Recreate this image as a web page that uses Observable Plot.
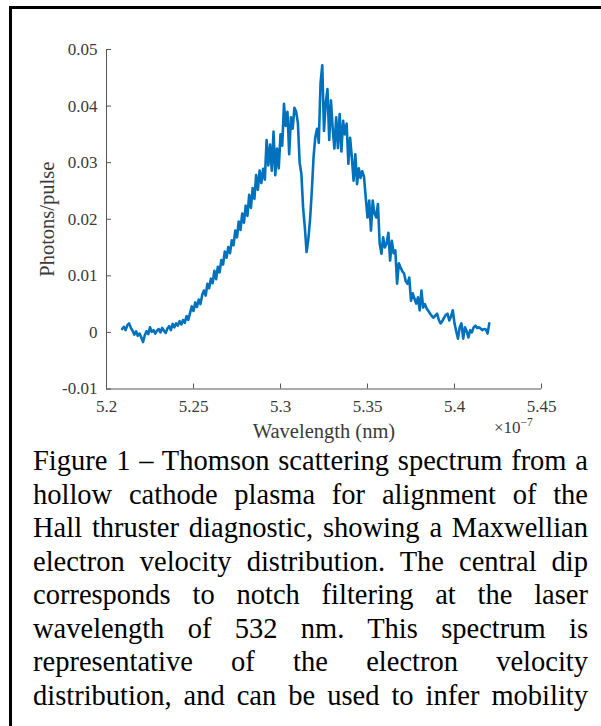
<!DOCTYPE html>
<html>
<head>
<meta charset="utf-8">
<script src="https://cdn.jsdelivr.net/npm/d3@7"></script>
<script src="https://cdn.jsdelivr.net/npm/@observablehq/plot@0.6"></script>
<style>
  html, body { margin: 0; padding: 0; background: #fff; width: 601px; height: 726px; overflow: hidden; }
  #frame { position: absolute; left: 9px; top: 6px; width: 800px; height: 900px; border-left: 3px solid #000; border-top: 3px solid #000; }
  #chart { position: absolute; left: 0; top: 0; }
  #chart svg, #chart svg text, #chart svg g { font-family: "Liberation Serif", "Times New Roman", serif !important; }
  #chart svg text { font-size: 17px; }
  #chart g[aria-label="x-axis label"] text, #chart g[aria-label="y-axis label"] text { font-size: 20.5px; }
  #exp { position: absolute; left: 494px; top: 420px; font-family: "Liberation Serif", serif; font-size: 17px; line-height: 16px; color: #3a3a3a; }
  #exp sup { font-size: 11.5px; line-height: 0; vertical-align: 7px; }
  #caption { position: absolute; left: 33px; top: 444px; width: 555px; font-family: "Liberation Serif", "Times New Roman", serif; font-size: 28.5px; line-height: 33.5px; color: #000; }
  #caption div { text-align: justify; text-align-last: justify; white-space: nowrap; }
</style>
</head>
<body>
<div id="frame"></div>
<div id="chart"></div>
<div id="exp">×10<sup>−7</sup></div>
<div id="caption"></div>
<script>
// Wavelength sampling grid (units of 1e-7 m, as on the axis)
const wavelengthStart = 5.209;
const wavelengthStep = 0.001;

// Photons/pulse, in units of 1e-3
const photonsMilli = [
  0.6, 1.0, 0.4, 1.3, 1.6, 0.8, 0.3, -0.4, 0.2, -0.6,
  -0.2, -0.9, -1.7, -0.5, 0.2, -0.3, 0.9, 0.1, 0.4, -0.2,
  0.3, 0.6, 0.0, 0.8, 0.3, -0.1, 0.7, 1.1, 0.4, 1.5,
  0.9, 1.6, 1.2, 2.0, 1.4, 2.2, 1.7, 2.9, 2.2, 3.4,
  4.6, 3.8, 5.3, 4.5, 5.8, 5.0, 6.6, 7.4, 6.5, 8.6,
  7.8, 9.5, 8.7, 10.9, 9.4, 11.6, 10.6, 12.8, 12.0, 14.3,
  13.2, 15.1, 14.0, 16.3, 15.4, 18.0, 16.8, 19.6, 18.1, 21.0,
  19.4, 22.4, 20.6, 24.3, 22.0, 25.5, 23.6, 27.8, 25.2, 28.6,
  26.4, 28.9, 27.0, 34.0, 29.5, 33.2, 28.6, 35.5, 27.8, 32.5,
  29.0, 35.0, 33.0, 40.4, 36.5, 39.0, 31.5, 38.0, 36.0, 39.7,
  39.0, 37.0, 30.0, 28.0, 22.0, 18.5, 14.2, 16.5, 20.0, 25.0,
  31.0, 34.5, 36.0, 33.5, 44.0, 47.2, 35.6, 40.5, 43.0, 34.0,
  41.0, 36.0, 32.5, 38.0, 32.6, 38.6, 32.0, 37.4, 35.0, 36.9,
  29.8, 34.4, 31.0, 26.8, 31.5, 26.2, 29.0, 27.3, 28.5, 27.5,
  23.8, 20.3, 23.3, 18.0, 23.3, 21.0, 20.3, 22.7, 15.7, 13.9,
  16.8, 15.0, 15.7, 17.6, 12.7, 16.2, 14.0, 14.5, 8.6, 12.2,
  11.5, 10.8, 10.4, 9.0, 8.6, 9.7, 5.6, 6.9, 6.0, 5.1,
  6.2, 3.9, 7.4, 4.4, 5.0, 4.2, 3.8, 3.3, 2.9, 2.6,
  3.0, 3.3, 2.2, 1.6, 2.0, 2.6, 3.1, 3.3, 2.1, 2.8,
  3.9, 1.6, 0.2, -1.1, 0.9, 1.6, -1.1, 0.9, 0.2, -0.9,
  0.4, 0.0, 0.9, 1.2, 0.8, 0.9, 0.7, 0.4, 0.6, 0.5,
  -0.2, 1.6
];

const xTicks = [5.2, 5.25, 5.3, 5.35, 5.4, 5.45];
const yTicks = [-0.01, 0, 0.01, 0.02, 0.03, 0.04, 0.05];
const xDomain = [5.2, 5.45];
const yDomain = [-0.01, 0.05];
const xLabel = "Wavelength (nm)";
const yLabel = "Photons/pulse";

const captionLines = [
  "Figure 1 – Thomson scattering spectrum from a",
  "hollow cathode plasma for alignment of the",
  "Hall thruster diagnostic, showing a Maxwellian",
  "electron velocity distribution. The central dip",
  "corresponds to notch filtering at the laser",
  "wavelength of 532 nm. This spectrum is",
  "representative of the electron velocity",
  "distribution, and can be used to infer mobility"
];

const data = photonsMilli.map((v, i) => ({
  wavelength: wavelengthStart + i * wavelengthStep,
  photons: v / 1000
}));

const axisColor = "#555";
const textColor = "#3a3a3a";

const chart = Plot.plot({
  width: 601,
  height: 450,
  marginLeft: 106,
  marginRight: 60,
  marginTop: 49,
  marginBottom: 61.5,
  style: { fontSize: "17px", color: textColor, background: "transparent", overflow: "visible" },
  x: { domain: xDomain },
  y: { domain: yDomain },
  marks: [
    Plot.ruleX([xDomain[0]], { stroke: axisColor, strokeWidth: 1 }),
    Plot.ruleY([yDomain[0]], { stroke: axisColor, strokeWidth: 1 }),
    Plot.axisX(xTicks, {
      tickSize: -5, tickPadding: 16, stroke: axisColor, fill: textColor,
      tickFormat: d => String(d),
      label: xLabel, labelAnchor: "center", labelArrow: "none", labelOffset: 49
    }),
    Plot.axisY(yTicks, {
      tickSize: -5, tickPadding: 14, stroke: axisColor, fill: textColor,
      tickFormat: d => d === 0 ? "0" : d.toFixed(2),
      label: yLabel, labelAnchor: "center", labelArrow: "none", labelOffset: 67
    }),
    Plot.line(data, { x: "wavelength", y: "photons", stroke: "#0072BD", strokeWidth: 2.6, strokeLinejoin: "round" })
  ]
});
document.getElementById("chart").appendChild(chart);

const cap = document.getElementById("caption");
for (const line of captionLines) {
  const d = document.createElement("div");
  d.textContent = line;
  cap.appendChild(d);
}
</script>
</body>
</html>
